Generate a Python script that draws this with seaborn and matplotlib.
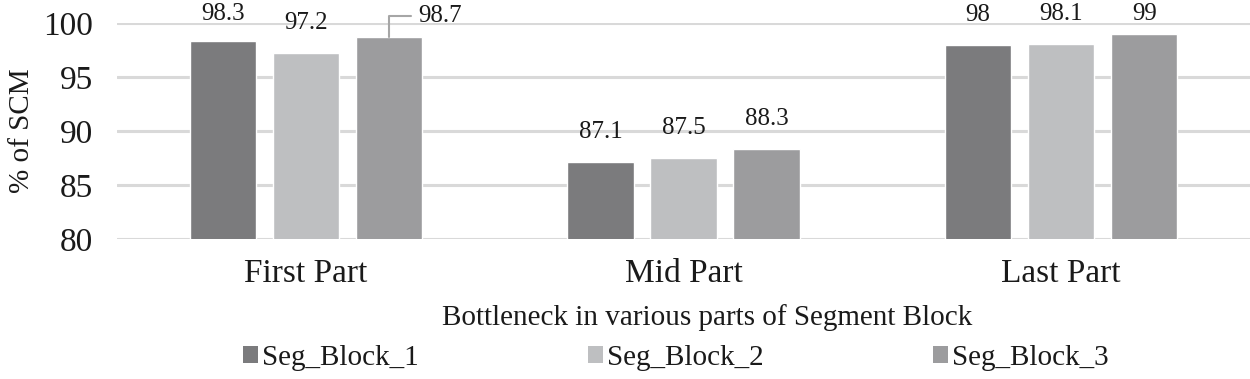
import numpy as np
import pandas as pd
import matplotlib
matplotlib.use('Agg')
import matplotlib.pyplot as plt
import seaborn as sns
from matplotlib.patches import Patch

# ========== 数据 ==========
parts = ['First Part', 'Mid Part', 'Last Part']
blocks = ['Seg_Block_1', 'Seg_Block_2', 'Seg_Block_3']
seg1 = [98.3, 87.1, 98.0]
seg2 = [97.2, 87.5, 98.1]
seg3 = [98.7, 88.3, 99.0]
labels1 = ['98.3', '87.1', '98']
labels2 = ['97.2', '87.5', '98.1']
labels3 = ['98.7', '88.3', '99']

C_B1 = '#7b7b7d'
C_B2 = '#bebfc1'
C_B3 = '#9c9c9e'
C_GRID = '#d9d9d9'
C_TEXT = '#1a1a1a'

df = pd.DataFrame({
    'part': parts * 3,
    'block': [b for b in blocks for _ in parts],
    'value': seg1 + seg2 + seg3,
})

sns.set_theme(style='white')
plt.rcParams['font.family'] = ['Liberation Serif', 'DejaVu Serif']
plt.rcParams['text.color'] = C_TEXT

fig = plt.figure(figsize=(12.5, 3.79), dpi=100)
ax = fig.add_axes([117 / 1250, 1 - 239 / 379, 1 - 117 / 1250, (239 - 23) / 379])

sns.barplot(data=df, x='part', y='value', hue='block', order=parts, hue_order=blocks,
            palette=[C_B1, C_B2, C_B3], width=0.66, gap=0.2, saturation=1,
            legend=False, ax=ax)

ax.set_ylim(80, 100)
ax.set_xlim(-0.5, 2.5)
ax.set_yticks([80, 85, 90, 95, 100])
ax.yaxis.grid(True, color=C_GRID, linewidth=2.2)
ax.set_axisbelow(True)
for s in ax.spines.values():
    s.set_visible(False)
ax.tick_params(axis='y', length=0, pad=17, labelsize=24, labelcolor=C_TEXT)
ax.tick_params(axis='x', length=0, pad=14, labelsize=24, labelcolor=C_TEXT)
ax.set_xlabel('')
ax.set_ylabel('% of SCM', fontsize=21, color=C_TEXT, labelpad=6)

# 数据标签：放在柱顶上方，顶部放不下时往下压（Excel 的做法）
px_per_unit = (239 - 23) / 20.0
label_cap = 100 + (23 - 14) / px_per_unit
all_labels = [labels1, labels2, labels3]
for cont, labs in zip(ax.containers, all_labels):
    for bar, lab in zip(cont, labs):
        xc = bar.get_x() + bar.get_width() / 2
        top = bar.get_height() + bar.get_y()
        if lab == '98.7':
            # 这个标签被挪到右边，带引导线
            ax.annotate(lab, xy=(xc, top), xytext=(37, 15), textcoords='offset points',
                        ha='center', va='center', fontsize=18, annotation_clip=False,
                        arrowprops=dict(arrowstyle='-', color='#a6a6a6', lw=1.5,
                                        connectionstyle='angle,angleA=0,angleB=90,rad=0',
                                        shrinkA=3, shrinkB=0))
        else:
            ly = min(top + 30 / px_per_unit, label_cap)
            ax.text(xc, ly, lab, ha='center', va='center', fontsize=18, clip_on=False)

fig.text(707 / 1250, 1 - 318 / 379, 'Bottleneck in various parts of Segment Block',
         ha='center', va='center', fontsize=21)

handles = [Patch(facecolor=c, edgecolor='none') for c in [C_B1, C_B2, C_B3]]
fig.legend(handles, blocks, loc='center', bbox_to_anchor=(676 / 1250, 1 - 358 / 379),
           ncol=3, frameon=False, fontsize=21, handlelength=0.5, handleheight=0.5,
           handletextpad=0.15, columnspacing=5.8, borderaxespad=0, borderpad=0)

fig.savefig('out.png', dpi=100)
